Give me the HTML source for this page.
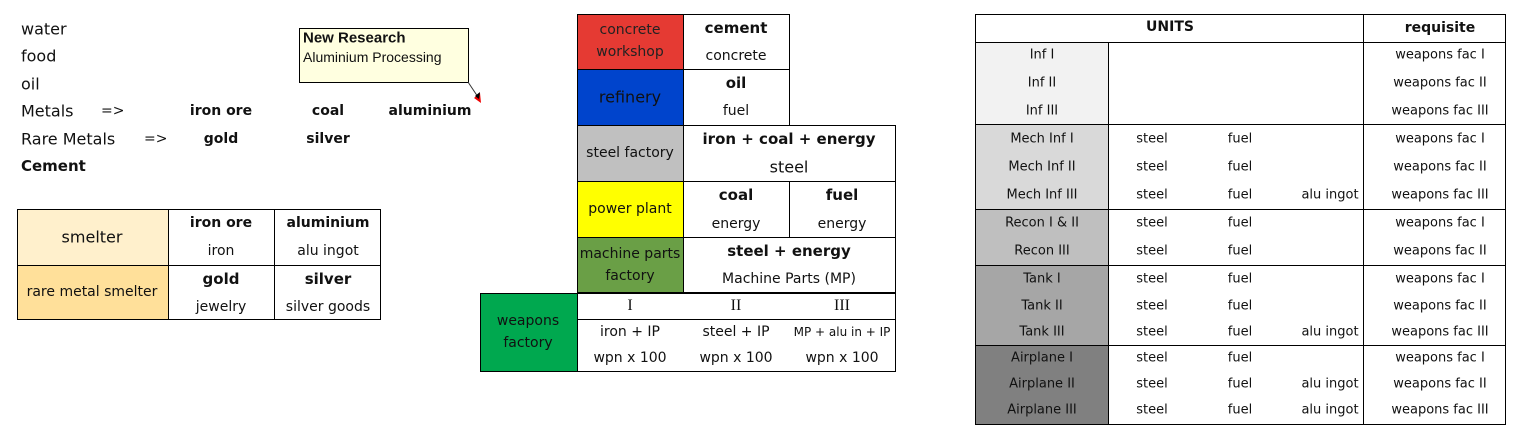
<!DOCTYPE html>
<html><head><meta charset="utf-8"><style>
body{margin:0;width:1519px;height:435px;background:#fff;position:relative;overflow:hidden;font-family:"DejaVu Sans","Liberation Sans",sans-serif;color:#111}
.t{position:absolute;transform:translate(-50%,-50%);white-space:nowrap}
.l{position:absolute;transform:translateY(-50%);white-space:nowrap}
.b{font-weight:bold}
.r{position:absolute;box-sizing:border-box;border:1px solid #000}
.h{position:absolute;height:1px;background:#000}
.v{position:absolute;width:1px;background:#000}
.s16{font-size:16px}.s15{font-size:15px}.s14{font-size:14px}.s13{font-size:13px}.s12{font-size:12px}
</style></head><body>
<!-- left text -->
<div class="l s16" style="left:21px;top:29px">water</div>
<div class="l s16" style="left:21px;top:56px">food</div>
<div class="l s16" style="left:21px;top:84px">oil</div>
<div class="l s16" style="left:21px;top:111px">Metals</div>
<div class="l s14" style="left:101px;top:111px">=&gt;</div>
<div class="l s16" style="left:21px;top:139px">Rare Metals</div>
<div class="l s14" style="left:144px;top:139px">=&gt;</div>
<div class="l s15 b" style="left:21px;top:166px">Cement</div>
<div class="t s14 b" style="left:221px;top:111px">iron ore</div>
<div class="t s14 b" style="left:328px;top:111px">coal</div>
<div class="t s14 b" style="left:430px;top:111px">aluminium</div>
<div class="t s14 b" style="left:221px;top:139px">gold</div>
<div class="t s14 b" style="left:328px;top:139px">silver</div>
<!-- note -->
<div class="r" style="left:299px;top:28px;width:170px;height:55px;background:#ffffe0"></div>
<div class="l b" style="left:303px;top:38px;font-family:'Liberation Sans',sans-serif;font-size:15px">New Research</div>
<div class="l" style="left:303px;top:57px;font-family:'Liberation Sans',sans-serif;font-size:14px">Aluminium Processing</div>
<svg style="position:absolute;left:0;top:0" width="500" height="120"><line x1="468" y1="82" x2="478" y2="97" stroke="#333" stroke-width="1"/><polygon points="474,98 480,93 481,103" fill="#e00"/><polygon points="475,96 480,92 479,99" fill="#000"/></svg>
<!-- smelter -->
<div style="position:absolute;left:17px;top:209px;width:151px;height:56px;background:#fff0cc"></div>
<div style="position:absolute;left:17px;top:265px;width:151px;height:54px;background:#ffe09a"></div>
<div class="r" style="left:17px;top:209px;width:364px;height:111px"></div>
<div class="h" style="left:17px;top:265px;width:364px"></div>
<div class="v" style="left:168px;top:209px;height:111px"></div>
<div class="v" style="left:274px;top:209px;height:111px"></div>
<div class="t s16" style="left:92px;top:237px">smelter</div>
<div class="t s14" style="left:92px;top:292px">rare metal smelter</div>
<div class="t s14 b" style="left:221px;top:223px">iron ore</div>
<div class="t s14" style="left:221px;top:251px">iron</div>
<div class="t s14 b" style="left:328px;top:223px">aluminium</div>
<div class="t s14" style="left:328px;top:251px">alu ingot</div>
<div class="t s15 b" style="left:221px;top:279px">gold</div>
<div class="t s14" style="left:221px;top:307px">jewelry</div>
<div class="t s15 b" style="left:328px;top:279px">silver</div>
<div class="t s14" style="left:328px;top:307px">silver goods</div>
<!-- middle -->
<div style="position:absolute;left:577px;top:14px;width:106px;height:55px;background:#e53a33"></div>
<div style="position:absolute;left:577px;top:69px;width:106px;height:56px;background:#0044cc"></div>
<div style="position:absolute;left:577px;top:125px;width:106px;height:56px;background:#c0c0c0"></div>
<div style="position:absolute;left:577px;top:181px;width:106px;height:56px;background:#ffff00"></div>
<div style="position:absolute;left:577px;top:237px;width:106px;height:56px;background:#6a9f46"></div>
<div style="position:absolute;left:480px;top:293px;width:97px;height:78px;background:#00a84f"></div>
<div class="r" style="left:577px;top:14px;width:213px;height:112px"></div>
<div class="h" style="left:577px;top:69px;width:213px"></div>
<div class="r" style="left:577px;top:125px;width:319px;height:168px"></div>
<div class="h" style="left:577px;top:181px;width:319px"></div>
<div class="h" style="left:577px;top:237px;width:319px"></div>
<div class="v" style="left:683px;top:14px;height:279px"></div>
<div class="v" style="left:789px;top:181px;height:56px"></div>
<div class="r" style="left:480px;top:293px;width:416px;height:79px"></div>
<div class="v" style="left:577px;top:293px;height:79px"></div>
<div class="h" style="left:577px;top:319px;width:319px"></div>
<div class="t s14" style="left:630px;top:30px;color:#222">concrete</div>
<div class="t s14" style="left:630px;top:52px;color:#222">workshop</div>
<div class="t s16" style="left:630px;top:97px;color:#111">refinery</div>
<div class="t s14" style="left:630px;top:153px">steel factory</div>
<div class="t s14" style="left:630px;top:209px">power plant</div>
<div class="t s14" style="left:630px;top:254px">machine parts</div>
<div class="t s14" style="left:630px;top:276px">factory</div>
<div class="t s14" style="left:528px;top:321px">weapons</div>
<div class="t s14" style="left:528px;top:343px">factory</div>
<div class="t s15 b" style="left:736px;top:28px">cement</div>
<div class="t s14" style="left:736px;top:56px">concrete</div>
<div class="t s15 b" style="left:736px;top:83px">oil</div>
<div class="t s14" style="left:736px;top:111px">fuel</div>
<div class="t s15 b" style="left:789px;top:139px">iron + coal + energy</div>
<div class="t s16" style="left:789px;top:167px">steel</div>
<div class="t s15 b" style="left:736px;top:195px">coal</div>
<div class="t s14" style="left:736px;top:224px">energy</div>
<div class="t s15 b" style="left:842px;top:195px">fuel</div>
<div class="t s14" style="left:842px;top:224px">energy</div>
<div class="t s15 b" style="left:789px;top:251px">steel + energy</div>
<div class="t s14" style="left:789px;top:279px">Machine Parts (MP)</div>
<div class="t s16" style="left:630px;top:306px;font-family:'Liberation Serif',serif">I</div>
<div class="t s16" style="left:736px;top:306px;font-family:'Liberation Serif',serif">II</div>
<div class="t s16" style="left:842px;top:306px;font-family:'Liberation Serif',serif">III</div>
<div class="t s14" style="left:630px;top:332px">iron + IP</div>
<div class="t s14" style="left:736px;top:332px">steel + IP</div>
<div class="t s12" style="left:842px;top:332px">MP + alu in + IP</div>
<div class="t s14" style="left:630px;top:358px">wpn x 100</div>
<div class="t s14" style="left:736px;top:358px">wpn x 100</div>
<div class="t s14" style="left:842px;top:358px">wpn x 100</div>
<!-- right table -->
<div style="position:absolute;left:975px;top:42px;width:133px;height:82px;background:#f2f2f2"></div>
<div style="position:absolute;left:975px;top:124px;width:133px;height:85px;background:#d9d9d9"></div>
<div style="position:absolute;left:975px;top:209px;width:133px;height:56px;background:#bfbfbf"></div>
<div style="position:absolute;left:975px;top:265px;width:133px;height:80px;background:#a6a6a6"></div>
<div style="position:absolute;left:975px;top:345px;width:133px;height:79px;background:#808080"></div>
<div class="r" style="left:975px;top:14px;width:531px;height:411px"></div>
<div class="h" style="left:975px;top:42px;width:531px"></div>
<div class="h" style="left:975px;top:124px;width:531px"></div>
<div class="h" style="left:975px;top:209px;width:531px"></div>
<div class="h" style="left:975px;top:265px;width:531px"></div>
<div class="h" style="left:975px;top:345px;width:531px"></div>
<div class="v" style="left:1108px;top:42px;height:383px"></div>
<div class="v" style="left:1363px;top:14px;height:411px"></div>
<div class="t s14 b" style="left:1170px;top:27px">UNITS</div>
<div class="t s14 b" style="left:1440px;top:28px">requisite</div>
<div style="font-size:13px">
<div class="t" style="left:1042px;top:55px">Inf I</div>
<div class="t" style="left:1042px;top:83px">Inf II</div>
<div class="t" style="left:1042px;top:111px">Inf III</div>
<div class="t" style="left:1042px;top:139px">Mech Inf I</div>
<div class="t" style="left:1042px;top:167px">Mech Inf II</div>
<div class="t" style="left:1042px;top:195px">Mech Inf III</div>
<div class="t" style="left:1042px;top:223px">Recon I &amp; II</div>
<div class="t" style="left:1042px;top:251px">Recon III</div>
<div class="t" style="left:1042px;top:279px">Tank I</div>
<div class="t" style="left:1042px;top:306px">Tank II</div>
<div class="t" style="left:1042px;top:332px">Tank III</div>
<div class="t" style="left:1042px;top:358px">Airplane I</div>
<div class="t" style="left:1042px;top:384px">Airplane II</div>
<div class="t" style="left:1042px;top:410px">Airplane III</div>

<div class="t" style="left:1152px;top:139px">steel</div><div class="t" style="left:1240px;top:139px">fuel</div>
<div class="t" style="left:1152px;top:167px">steel</div><div class="t" style="left:1240px;top:167px">fuel</div>
<div class="t" style="left:1152px;top:195px">steel</div><div class="t" style="left:1240px;top:195px">fuel</div><div class="t" style="left:1330px;top:195px">alu ingot</div>
<div class="t" style="left:1152px;top:223px">steel</div><div class="t" style="left:1240px;top:223px">fuel</div>
<div class="t" style="left:1152px;top:251px">steel</div><div class="t" style="left:1240px;top:251px">fuel</div>
<div class="t" style="left:1152px;top:279px">steel</div><div class="t" style="left:1240px;top:279px">fuel</div>
<div class="t" style="left:1152px;top:306px">steel</div><div class="t" style="left:1240px;top:306px">fuel</div>
<div class="t" style="left:1152px;top:332px">steel</div><div class="t" style="left:1240px;top:332px">fuel</div><div class="t" style="left:1330px;top:332px">alu ingot</div>
<div class="t" style="left:1152px;top:358px">steel</div><div class="t" style="left:1240px;top:358px">fuel</div>
<div class="t" style="left:1152px;top:384px">steel</div><div class="t" style="left:1240px;top:384px">fuel</div><div class="t" style="left:1330px;top:384px">alu ingot</div>
<div class="t" style="left:1152px;top:410px">steel</div><div class="t" style="left:1240px;top:410px">fuel</div><div class="t" style="left:1330px;top:410px">alu ingot</div>

<div class="t" style="left:1440px;top:55px">weapons fac I</div>
<div class="t" style="left:1440px;top:83px">weapons fac II</div>
<div class="t" style="left:1440px;top:111px">weapons fac III</div>
<div class="t" style="left:1440px;top:139px">weapons fac I</div>
<div class="t" style="left:1440px;top:167px">weapons fac II</div>
<div class="t" style="left:1440px;top:195px">weapons fac III</div>
<div class="t" style="left:1440px;top:223px">weapons fac I</div>
<div class="t" style="left:1440px;top:251px">weapons fac II</div>
<div class="t" style="left:1440px;top:279px">weapons fac I</div>
<div class="t" style="left:1440px;top:306px">weapons fac II</div>
<div class="t" style="left:1440px;top:332px">weapons fac III</div>
<div class="t" style="left:1440px;top:358px">weapons fac I</div>
<div class="t" style="left:1440px;top:384px">weapons fac II</div>
<div class="t" style="left:1440px;top:410px">weapons fac III</div>
</div>
</body></html>
